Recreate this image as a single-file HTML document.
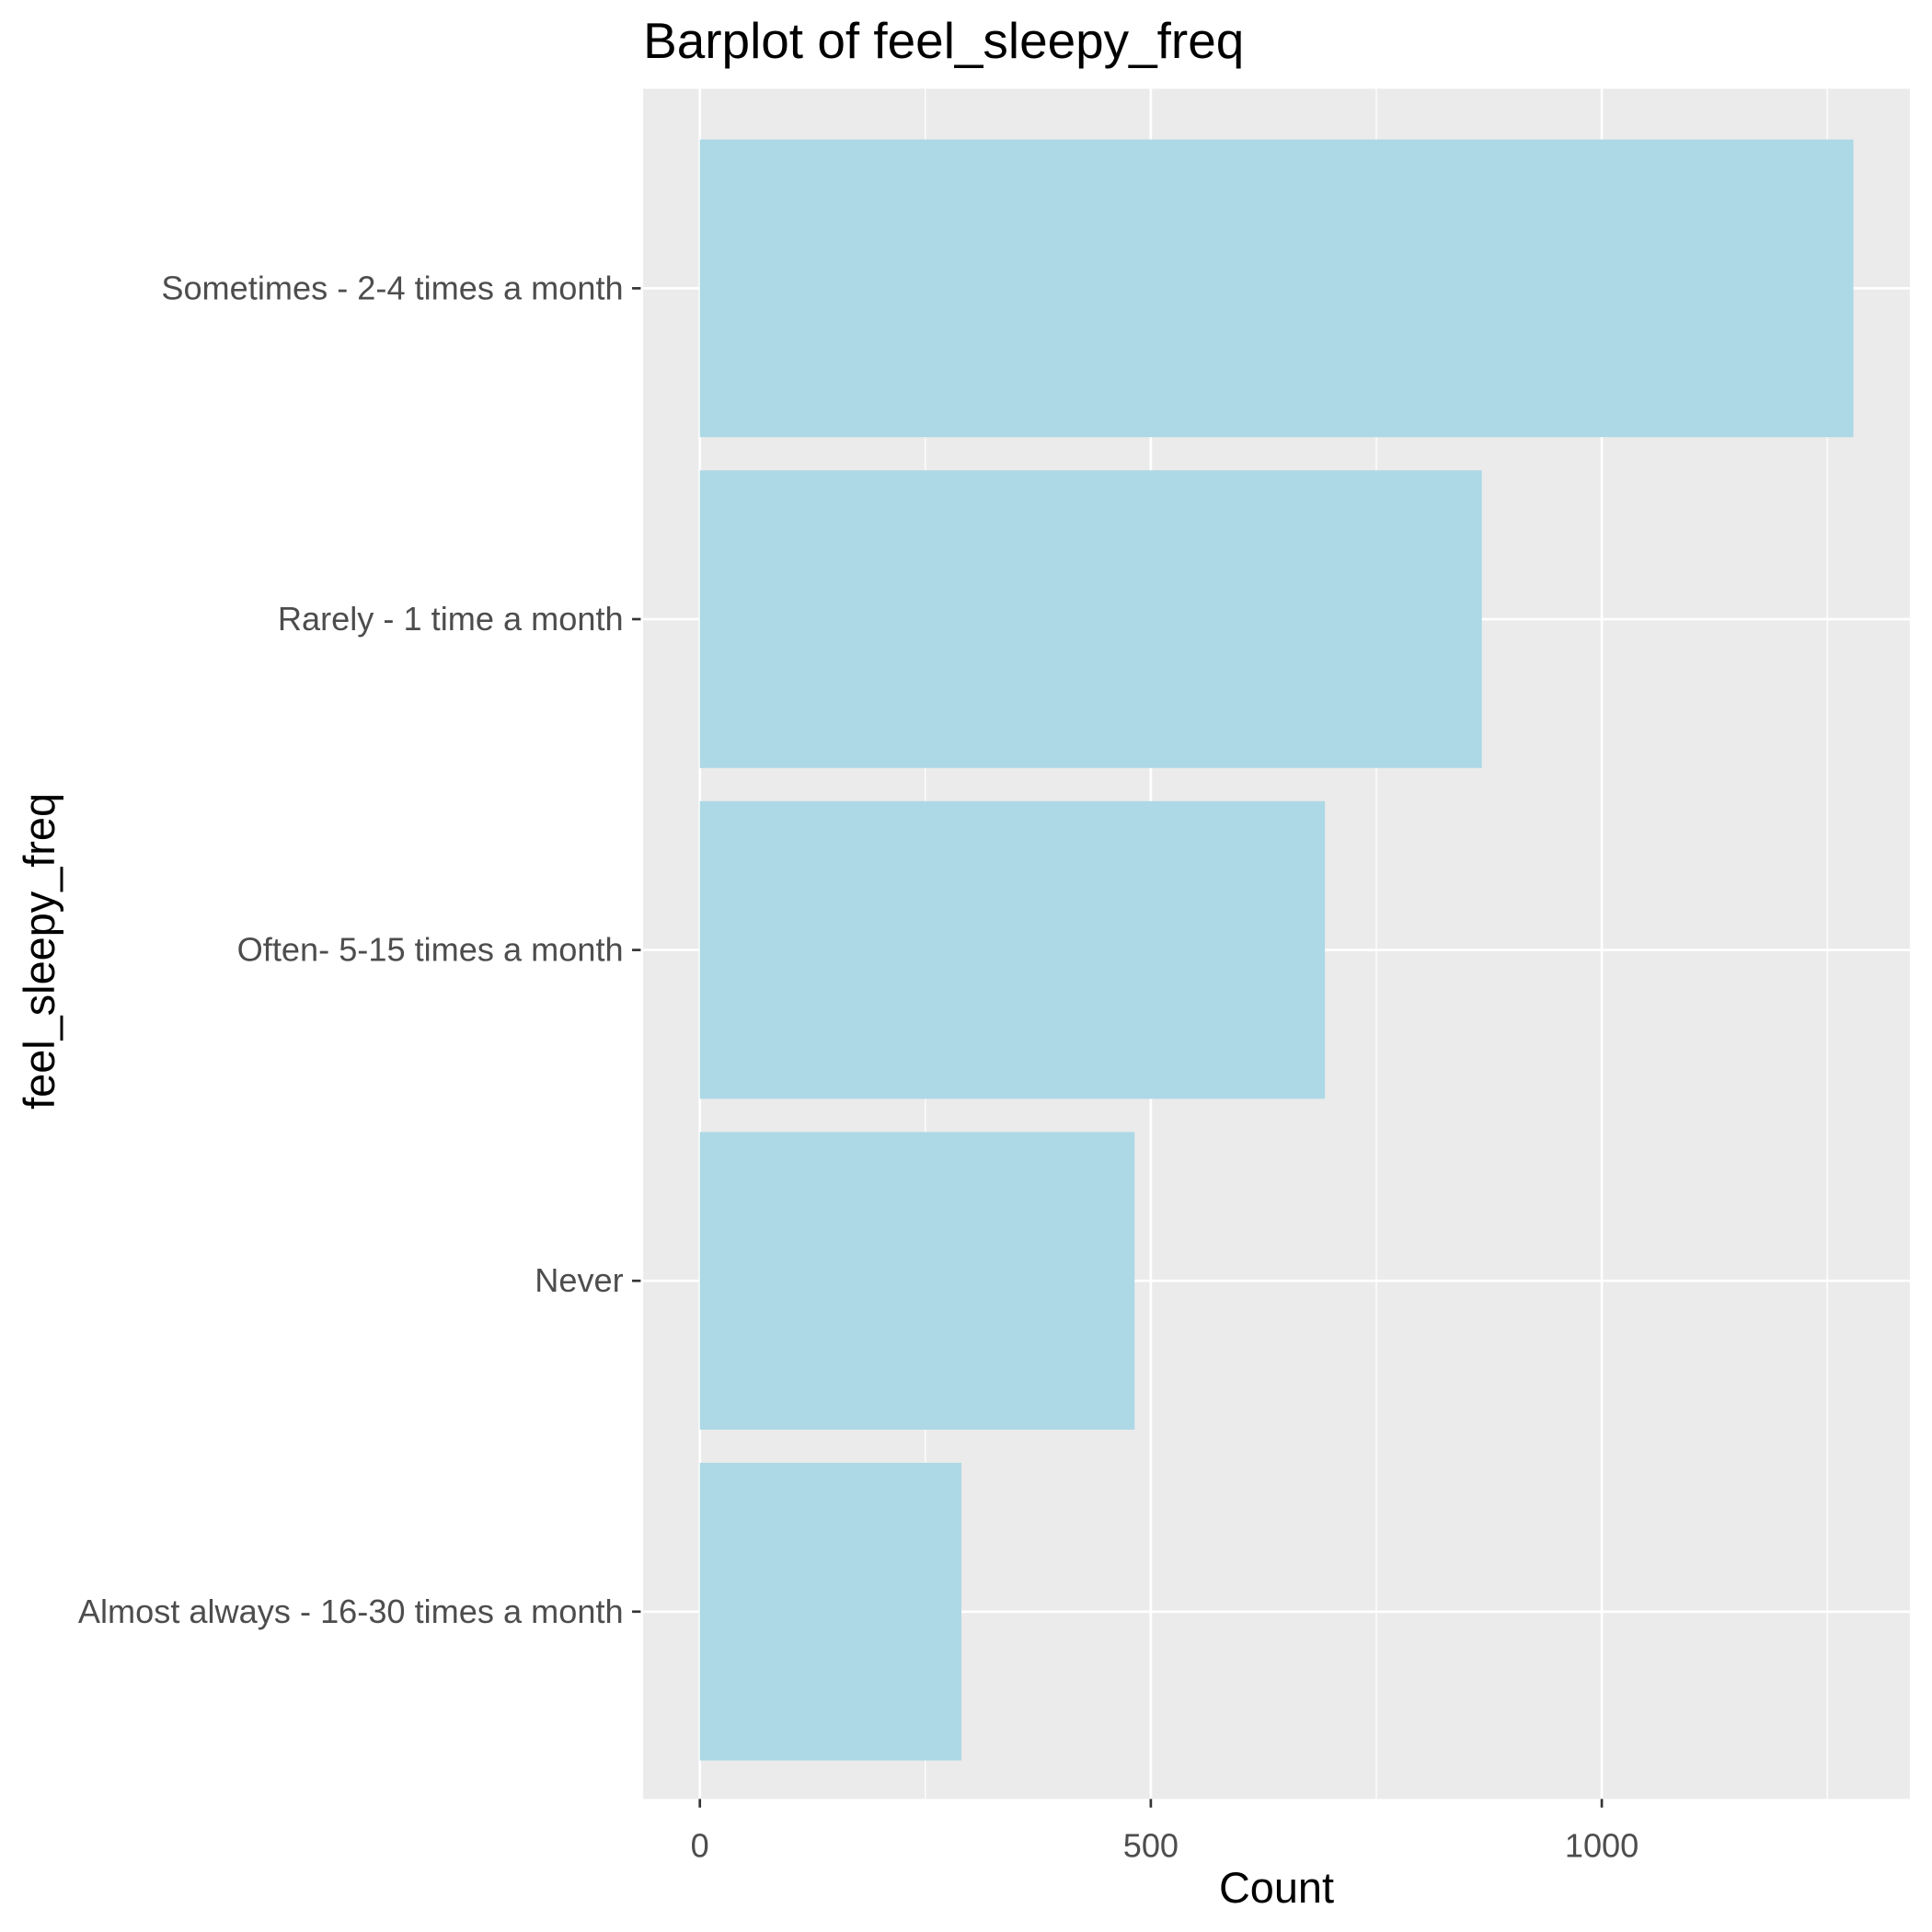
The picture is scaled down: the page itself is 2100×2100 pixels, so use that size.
<!DOCTYPE html>
<html><head><meta charset="utf-8"><style>html,body{margin:0;padding:0;background:#fff}svg{display:block}</style></head>
<body>
<svg id="chart" width="2100" height="2100" viewBox="0 0 1568 1568" xmlns="http://www.w3.org/2000/svg" font-family="'Liberation Sans', sans-serif">
<rect x="0" y="0" width="1568" height="1568" fill="#fff"/>
<rect x="522" y="72" width="1028" height="1388" fill="#ebebeb"/>
<g id="grid"></g><g id="bars"></g><g id="axes"></g>
<text x="522" y="47" font-size="41" fill="#000">Barplot of feel_sleepy_freq</text>
<text x="1036" y="1544" font-size="35" text-anchor="middle" fill="#000">Count</text>
<text transform="translate(44,772) rotate(-90)" font-size="35" text-anchor="middle" fill="#000">feel_sleepy_freq</text>
</svg>
<script>
const categories = ["Almost always - 16-30 times a month","Never","Often- 5-15 times a month","Rarely - 1 time a month","Sometimes - 2-4 times a month"];
const counts = [290, 482, 693, 867, 1279];
const xTicks = [0, 500, 1000];
const xMinor = [250, 750, 1250];
const NS="http://www.w3.org/2000/svg";
const x = v => 568 + v*0.732;
const y = i => 1308 - i*268.5;
const bw = 241.6;
function mk(tag, attrs, parent){const e=document.createElementNS(NS,tag);for(const k in attrs)e.setAttribute(k,attrs[k]);document.getElementById(parent).appendChild(e);return e;}
xMinor.forEach(v=>{const l=mk('line',{x1:x(v),x2:x(v),y1:72,y2:1460,stroke:'#fff','stroke-width':1},'grid');

});
xTicks.forEach(v=>{const l=mk('line',{x1:x(v),x2:x(v),y1:72,y2:1460,stroke:'#fff','stroke-width':2},'grid');


const t=mk('line',{x1:x(v),x2:x(v),y1:1460,y2:1467,stroke:'#333','stroke-width':2},'axes');


const tx=mk('text',{x:x(v),y:1507,'font-size':27,fill:'#4d4d4d','text-anchor':'middle'},'axes');tx.textContent=v;

});
categories.forEach((c,i)=>{const l=mk('line',{x1:522,x2:1550,y1:y(i),y2:y(i),stroke:'#fff','stroke-width':2},'grid');


const b=mk('rect',{x:x(0),y:y(i)-bw/2,width:x(counts[i])-x(0),height:bw,fill:'#add8e6'},'bars');


const t=mk('line',{x1:513,x2:520,y1:y(i),y2:y(i),stroke:'#333','stroke-width':2},'axes');


const tx=mk('text',{x:506,y:y(i)+9,'font-size':27,fill:'#4d4d4d','text-anchor':'end'},'axes');tx.textContent=c;

});
</script>
</body></html>
